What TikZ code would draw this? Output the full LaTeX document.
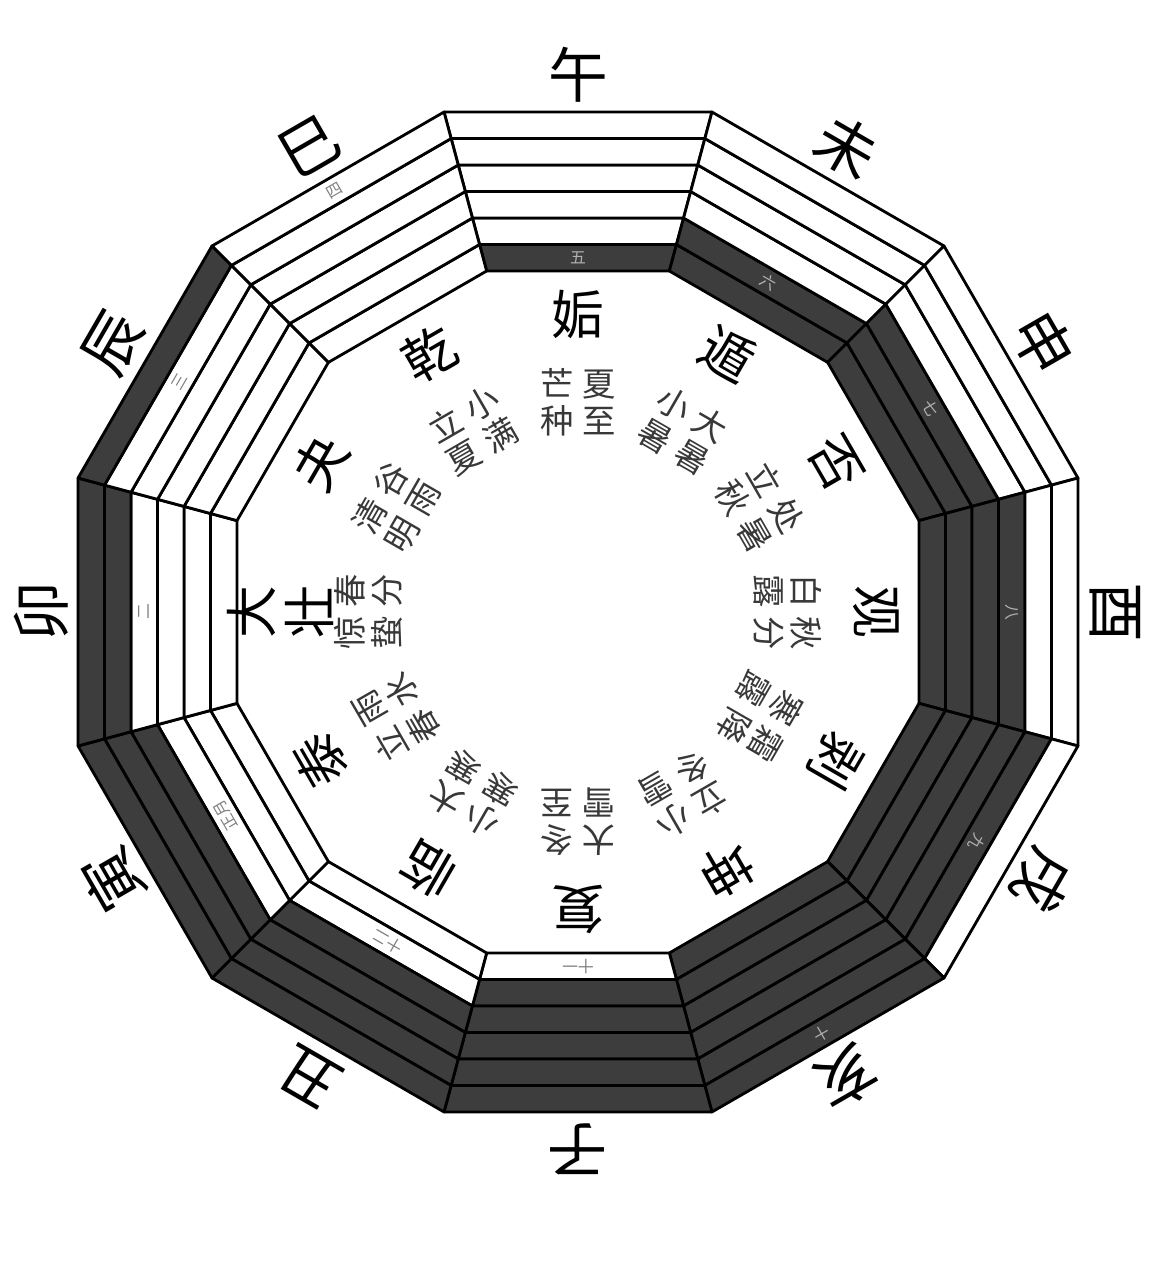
\documentclass[tikz,border=0pt]{standalone}
\usepackage{fontspec}
\setmainfont{Noto Sans CJK SC}
\usetikzlibrary{calc}
\definecolor{yinband}{rgb}{0.24,0.24,0.24}
\definecolor{qigray}{rgb}{0.22,0.22,0.22}
\newcommand\twoup[2]{#1\\#2}

\begin{document}
\begin{tikzpicture}[line width=0.8pt, line join=round,
  branch/.style={font=\fontsize{17}{17}\selectfont, inner sep=0pt},
  gua/.style={font=\fontsize{15}{16.5}\selectfont, align=center, inner sep=0pt},
  qi/.style={font=\fontsize{9.5}{10.5}\selectfont, text=qigray, align=center, inner sep=0pt},
  yue/.style={font=\fontsize{4.5}{4.5}\selectfont, inner sep=0pt}]
\useasboundingbox (-5.78,-6.68) rectangle (5.75,6.12);
% six lines per sector, inner band = bottom line
\foreach \k in {0,...,11}{
  \foreach \j in {0,...,5}{
    \pgfmathsetmacro{\ang}{90-30*\k}
    \pgfmathsetmacro{\ra}{(3.41+0.265*\j)/cos(15)}
    \pgfmathsetmacro{\rb}{(3.41+0.265*(\j+1))/cos(15)}
    \pgfmathtruncatemacro{\yin}{ifthenelse(\k<6, \j<\k+1, \j>\k-6)}
    \ifnum\yin=1 \def\bandfill{yinband}\else\def\bandfill{white}\fi
    \draw[fill=\bandfill] ({\ang-15}:\ra) -- ({\ang+15}:\ra) -- ({\ang+15}:\rb) -- ({\ang-15}:\rb) -- cycle;
  }
}
% earthly branches
\foreach \br [count=\i from 0] in {午,未,申,酉,戌,亥,子,丑,寅,卯,辰,巳}{
  \node[branch, rotate=-30*\i] (zhi\i) at ({90-30*\i}:5.37) {\br};
}
% hexagram names
\foreach \g [count=\i from 0] in {姤,遁,否,观,剥,坤,复,临,泰,\twoup{大}{壮},夬,乾}{
  \node[gua, rotate=-30*\i] (gua\i) at ({90-30*\i}:2.98) {\g};
}
% solar terms
\foreach \ta/\tb [count=\i from 0] in {\twoup{芒}{种}/\twoup{夏}{至},\twoup{小}{暑}/\twoup{大}{暑},\twoup{立}{秋}/\twoup{处}{暑},\twoup{白}{露}/\twoup{秋}{分},\twoup{寒}{露}/\twoup{霜}{降},\twoup{立}{冬}/\twoup{小}{雪},\twoup{大}{雪}/\twoup{冬}{至},\twoup{小}{寒}/\twoup{大}{寒},\twoup{立}{春}/\twoup{雨}{水},\twoup{惊}{蛰}/\twoup{春}{分},\twoup{清}{明}/\twoup{谷}{雨},\twoup{立}{夏}/\twoup{小}{满}}{
  \node[qi, rotate=-30*\i] (qia\i) at ($({90-30*\i}:2.1)+({180-30*\i}:0.21)$) {\ta};
  \node[qi, rotate=-30*\i] (qib\i) at ($({90-30*\i}:2.1)+({-30*\i}:0.21)$) {\tb};
}
% months
\foreach \m [count=\i from 0] in {五,六,七,八,九,十,十一,十二,正月,二,三,四}{
  \pgfmathtruncatemacro{\band}{mod(\i,6)}
  \pgfmathsetmacro{\rmid}{3.41+0.265*(\band+0.5)}
  \ifnum\i<6 \def\yuecol{white!70!black}\else\def\yuecol{black!50}\fi
  \node[yue, rotate=-30*\i, text=\yuecol] (yue\i) at ({90-30*\i}:\rmid) {\m};
}
\end{tikzpicture}
\end{document}
